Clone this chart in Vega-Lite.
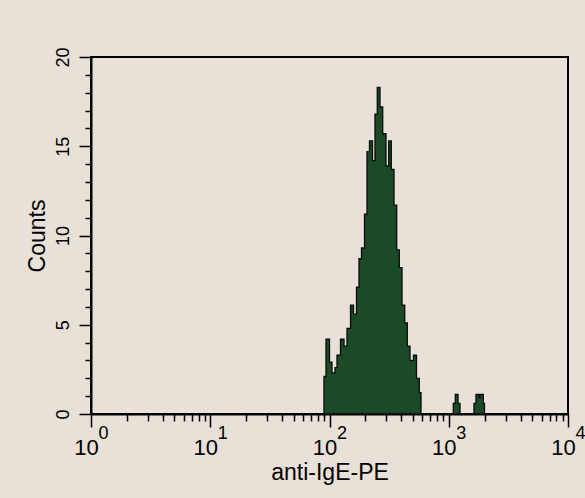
{
  "$schema": "https://vega.github.io/schema/vega-lite/v6.json",
  "width": 477,
  "height": 357,
  "autosize": {"type": "none"},
  "padding": {"left": 91, "top": 57, "right": 17, "bottom": 84},
  "background": "#e9e0d7",
  "config": {
    "view": {"stroke": "black", "strokeWidth": 2},
    "axis": {
      "domainColor": "black", "domainWidth": 2,
      "tickColor": "black", "tickWidth": 1.5,
      "labelColor": "black", "titleColor": "black",
      "labelFont": "Liberation Sans", "titleFont": "Liberation Sans",
      "grid": false
    }
  },
  "data": {"values": [
    {"fl": 89.9, "count": 2.1},
    {"fl": 93.5, "count": 4.2},
    {"fl": 100.0, "count": 2.9},
    {"fl": 104.9, "count": 2.3},
    {"fl": 111.2, "count": 2.6},
    {"fl": 115.6, "count": 3.3},
    {"fl": 123.7, "count": 4.2},
    {"fl": 132.3, "count": 3.8},
    {"fl": 140.2, "count": 4.8},
    {"fl": 150.1, "count": 6.1},
    {"fl": 159.0, "count": 5.6},
    {"fl": 168.4, "count": 7.1},
    {"fl": 176.8, "count": 8.7},
    {"fl": 185.5, "count": 9.3},
    {"fl": 196.6, "count": 11.2},
    {"fl": 206.3, "count": 14.7},
    {"fl": 216.5, "count": 15.3},
    {"fl": 229.4, "count": 14.2},
    {"fl": 240.7, "count": 16.8},
    {"fl": 251.6, "count": 18.3},
    {"fl": 265.1, "count": 17.2},
    {"fl": 279.3, "count": 15.7},
    {"fl": 297.7, "count": 13.9},
    {"fl": 313.6, "count": 15.3},
    {"fl": 329.8, "count": 13.7},
    {"fl": 347.4, "count": 11.7},
    {"fl": 366.0, "count": 9.2},
    {"fl": 384.9, "count": 8.2},
    {"fl": 405.5, "count": 6.1},
    {"fl": 427.2, "count": 5.1},
    {"fl": 449.2, "count": 3.8},
    {"fl": 473.3, "count": 3.0},
    {"fl": 506.2, "count": 3.3},
    {"fl": 536.4, "count": 2.0},
    {"fl": 566.2, "count": 1.2},
    {"fl": 585.2, "count": 0},
    {"fl": 1092, "count": 0.6},
    {"fl": 1135, "count": 1.1},
    {"fl": 1196, "count": 0.6},
    {"fl": 1243, "count": 0},
    {"fl": 1628, "count": 0.6},
    {"fl": 1692, "count": 1.1},
    {"fl": 1793, "count": 0.9},
    {"fl": 1829, "count": 1.1},
    {"fl": 1949, "count": 0.6},
    {"fl": 1994, "count": 0}
  ]},
  "layer": [
    {
      "mark": {"type": "area", "interpolate": "step-after", "fill": "#1a4a26", "stroke": "#0a0a0a", "strokeWidth": 1.3},
      "encoding": {
        "x": {
          "field": "fl", "type": "quantitative",
          "scale": {"type": "log", "domain": [1, 10000], "nice": false},
          "axis": {
            "orient": "bottom",
            "title": "anti-IgE-PE",
            "values": [1,2,3,4,5,6,7,8,9,10,20,30,40,50,60,70,80,90,100,200,300,400,500,600,700,800,900,1000,2000,3000,4000,5000,6000,7000,8000,9000,10000],
            "labelExpr": "datum.value == 1 || datum.value == 10 || datum.value == 100 || datum.value == 1000 || datum.value == 10000 ? '10' : ''",
            "tickSize": {"condition": {"test": "datum.value == 1 || datum.value == 10 || datum.value == 100 || datum.value == 1000 || datum.value == 10000", "value": 13}, "value": 7},
            "labelOverlap": false,
            "labelFlush": false,
            "labelFontSize": 22,
            "labelOffset": -5,
            "labelPadding": 10,
            "titleFontSize": 23,
            "titleFontWeight": "normal",
            "titlePadding": 3
          }
        },
        "y": {
          "field": "count", "type": "quantitative",
          "scale": {"domain": [0, 20], "nice": false},
          "axis": {
            "title": "Counts",
            "values": [0,1,2,3,4,5,6,7,8,9,10,11,12,13,14,15,16,17,18,19,20],
            "labelExpr": "datum.value % 5 == 0 ? datum.label : ''",
            "tickSize": {"condition": {"test": "datum.value % 5 == 0", "value": 12}, "value": 6},
            "labelAngle": -90,
            "labelOverlap": false,
            "labelFlush": false,
            "labelFontSize": 18,
            "labelPadding": 7,
            "titleFontSize": 23,
            "titleFontWeight": "normal",
            "titlePadding": 5
          }
        }
      }
    },
    {
      "mark": {"type": "point", "opacity": 0},
      "encoding": {
        "x": {
          "field": "fl", "type": "quantitative",
          "scale": {"type": "log", "domain": [1, 10000], "nice": false},
          "axis": {
            "orient": "bottom",
            "title": null,
            "values": [1, 10, 100, 1000, 10000],
            "labelExpr": "datum.value == 1 ? '0' : datum.value == 10 ? '1' : datum.value == 100 ? '2' : datum.value == 1000 ? '3' : '4'",
            "ticks": false,
            "domain": false,
            "labelOverlap": false,
            "labelFlush": false,
            "labelFontSize": 18,
            "labelOffset": 12,
            "labelPadding": 10
          }
        }
      }
    }
  ],
  "resolve": {"axis": {"x": "independent"}}
}
